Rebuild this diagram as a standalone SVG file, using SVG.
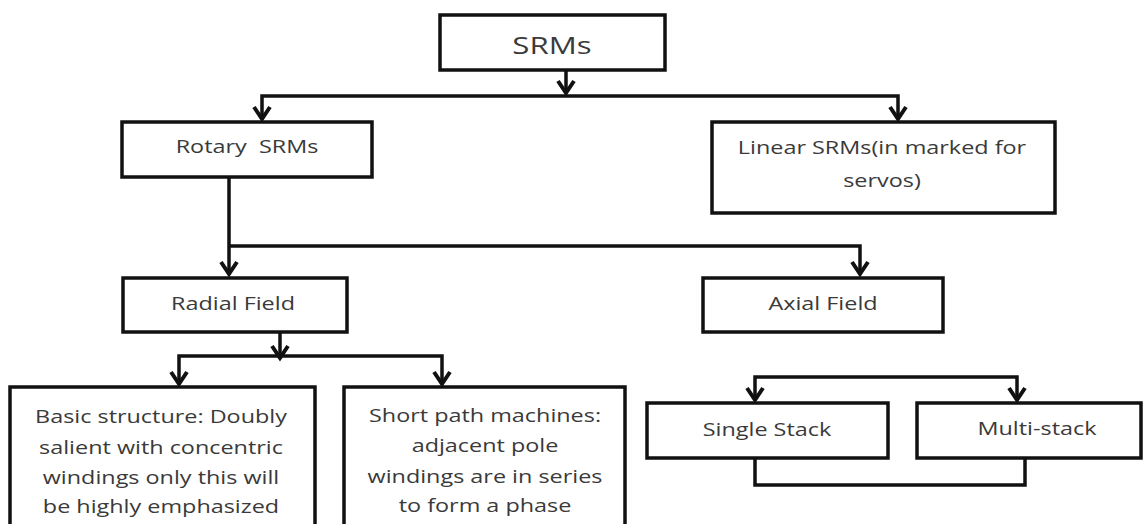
<svg xmlns="http://www.w3.org/2000/svg" width="1145" height="524" viewBox="0 0 1145 524">
  <style>
    .box { fill: #ffffff; stroke: #111111; stroke-width: 3.5; }
    .t { font-family: "Open Sans", "Noto Sans", sans-serif; font-size: 18px; fill: #3a3a3a; text-anchor: middle; white-space: pre; }
    .big { font-size: 24px; }
    .c { fill: none; stroke: #111111; stroke-width: 3.5; }
  </style>
  <defs>
    <marker id="arr" markerUnits="userSpaceOnUse" markerWidth="22" markerHeight="22" viewBox="-15 -11 17 22" refX="0" refY="0" orient="auto">
      <path d="M-12,-8 L0,0 L-12,8" fill="none" stroke="#111111" stroke-width="4"/>
    </marker>
  </defs>
  <rect width="1145" height="524" fill="#ffffff"/>

  <g id="connectors">
    <path class="c" d="M566,70 V93" marker-end="url(#arr)"/>
    <path class="c" d="M566,96 H262 V119" marker-end="url(#arr)"/>
    <path class="c" d="M566,96 H898 V119" marker-end="url(#arr)"/>
    <path class="c" d="M229,177 V274" marker-end="url(#arr)"/>
    <path class="c" d="M229,246 H860 V274" marker-end="url(#arr)"/>
    <path class="c" d="M280,332 V358" marker-end="url(#arr)"/>
    <path class="c" d="M280,356 H179 V384" marker-end="url(#arr)"/>
    <path class="c" d="M280,356 H442 V384" marker-end="url(#arr)"/>
    <path class="c" d="M886,377 H755 V400" marker-end="url(#arr)"/>
    <path class="c" d="M886,377 H1017 V400" marker-end="url(#arr)"/>
    <path class="c" d="M755,458 V485 H1025 V458"/>
  </g>

  <g id="srms">
    <rect class="box" x="440" y="15" width="225" height="55"/>
    <text class="t big" transform="translate(552,54) scale(1.3,1)">SRMs</text>
  </g>
  <g id="rotary">
    <rect class="box" x="122" y="122" width="250" height="55"/>
    <text class="t" xml:space="preserve" transform="translate(247,153) scale(1.3,1)">Rotary  SRMs</text>
  </g>
  <g id="linear">
    <rect class="box" x="712" y="122" width="343" height="91"/>
    <text class="t" transform="translate(882,154) scale(1.3,1)"><tspan x="0" y="0">Linear SRMs(in marked for</tspan><tspan x="0" y="33">servos)</tspan></text>
  </g>
  <g id="radial">
    <rect class="box" x="123" y="278" width="224" height="54"/>
    <text class="t" transform="translate(233,310) scale(1.3,1)">Radial Field</text>
  </g>
  <g id="axial">
    <rect class="box" x="703" y="278" width="240" height="54"/>
    <text class="t" transform="translate(823,310) scale(1.3,1)">Axial Field</text>
  </g>
  <g id="basic">
    <rect class="box" x="10" y="387" width="305" height="160"/>
    <text class="t" transform="translate(161,423) scale(1.3,1)"><tspan x="0" y="0">Basic structure: Doubly</tspan><tspan x="0" y="31">salient with concentric</tspan><tspan x="0" y="61">windings only this will</tspan><tspan x="0" y="90">be highly emphasized</tspan></text>
  </g>
  <g id="short">
    <rect class="box" x="344" y="387" width="281" height="160"/>
    <text class="t" transform="translate(485,422) scale(1.3,1)"><tspan x="0" y="0">Short path machines:</tspan><tspan x="0" y="30">adjacent pole</tspan><tspan x="0" y="61">windings are in series</tspan><tspan x="0" y="90">to form a phase</tspan></text>
  </g>
  <g id="single">
    <rect class="box" x="647" y="403" width="241" height="55"/>
    <text class="t" transform="translate(767,436) scale(1.3,1)">Single Stack</text>
  </g>
  <g id="multi">
    <rect class="box" x="917" y="403" width="224" height="55"/>
    <text class="t" transform="translate(1037,435) scale(1.3,1)">Multi-stack</text>
  </g>
</svg>
